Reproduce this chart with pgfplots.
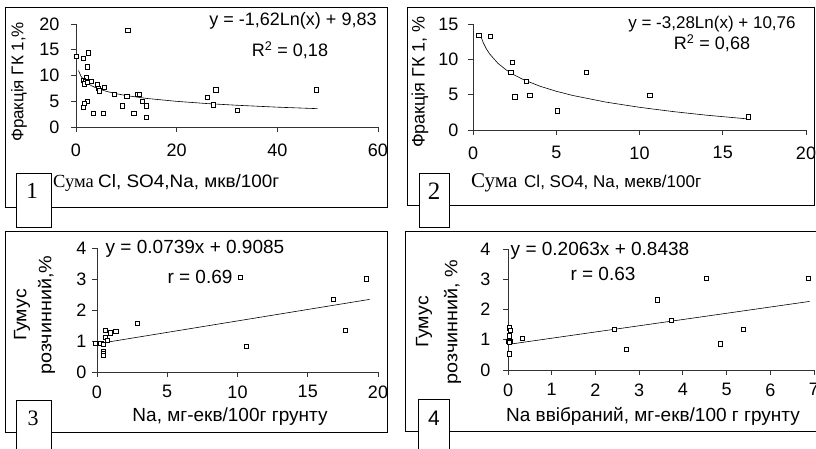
\documentclass[border=0pt]{standalone}
\usepackage{fontspec}
\setmainfont{Liberation Sans}
\newfontfamily\tnr{Liberation Serif}
\usepackage{graphicx}
\usepackage{pgfplots}
\pgfplotsset{compat=1.18}

\newcommand\fs{\fontsize{18}{21}\selectfont}

\pgfplotsset{
  panel/.style={
    scale only axis, anchor=south west,
    axis lines=left, axis line style={-, black!80, line width=0.8pt},
    tick align=outside, major tick length=5pt,
    tick style={black!80, line width=0.8pt},
    ticklabel style={font=\fs},
    /pgf/number format/assume math mode=true,
    clip=false,
  },
  pts/.style={only marks, mark=square*, mark size=2.1pt,
    mark options={fill=white, draw=black, line width=0.8pt}},
  fit/.style={no marks, black, line width=0.6pt},
}

\begin{document}
\begin{tikzpicture}[x=1pt, y=1pt]
\useasboundingbox (0,0) rectangle (816,449);

% panel frames
\draw[line width=0.8pt] (5,442) rectangle (387,242);
\draw[line width=0.8pt] (407,442) rectangle (814,244);
\draw[line width=0.8pt] (5,218) rectangle (387,17);
\draw[line width=0.8pt] (816,218) -- (405,218) -- (405,18) -- (816,18);

% 1
\begin{axis}[panel, at={(76pt,322pt)}, width=302pt, height=103pt,
  xmin=0, xmax=60, ymin=0, ymax=20, xtick={0,20,40,60}, ytick={0,5,10,15,20},
  xticklabel style={yshift=-8pt}, yticklabel style={xshift=-8pt}]
  \addplot[pts] coordinates {
    (0,13.65) (10.3,18.8) (2.5,14.4) (1.4,13.3) (2.25,11.65) (2.0,9.65)
    (1.4,9.1) (1.8,8.8) (1.6,8.35) (2.25,8.6) (3.1,8.9) (4.25,8.3)
    (4.4,7.5) (4.65,7.0) (5.7,7.7) (7.7,6.35) (10.1,6.0) (12.3,6.35)
    (12.6,6.35) (13.2,4.9) (14.0,4.1) (9.15,4.1) (11.5,2.65) (14.0,1.8)
    (5.4,2.65) (3.4,2.65) (2.25,5.0) (1.65,4.65) (1.4,3.8) (26.1,5.75)
    (27.8,7.2) (27.3,4.3) (32.0,3.2) (47.8,7.2)};
  \addplot[fit] coordinates {
    (0.5,10.95) (1,9.83) (2,8.71) (3,8.05) (4,7.58) (6,6.93) (8,6.46)
    (10,6.10) (14,5.55) (20,4.98) (26,4.55) (32,4.22) (40,3.85) (48,3.56)};
\end{axis}

% 2
\begin{axis}[panel, at={(473pt,319pt)}, width=333pt, height=106pt,
  xmin=0, xmax=20, ymin=0, ymax=15, xtick={0,5,10,15,20}, ytick={0,5,10,15},
  xticklabel style={yshift=-8pt}, yticklabel style={xshift=-6pt}]
  \addplot[pts] coordinates {
    (0.36,13.4) (1.06,13.2) (2.38,9.58) (2.28,8.16) (3.22,6.93) (2.52,4.67)
    (3.42,4.9) (5.07,2.69) (6.79,8.16) (10.63,4.9) (16.53,1.84)};
  \addplot[fit] coordinates {
    (0.45,13.38) (0.6,12.44) (0.8,11.49) (1,10.76) (1.5,9.43) (2,8.49)
    (2.5,7.75) (3,7.16) (4,6.21) (5,5.48) (6,4.88) (8,3.94) (10,3.21)
    (12,2.61) (14,2.10) (16.5,1.57)};
\end{axis}

% 3
\begin{axis}[panel, at={(97pt,77pt)}, width=281pt, height=124pt,
  xmin=0, xmax=20, ymin=0, ymax=4, xtick={0,5,10,15,20}, ytick={0,1,2,3,4},
  xticklabel style={yshift=-5pt}, yticklabel style={xshift=-2pt}]
  \addplot[pts] coordinates {
    (-0.12,0.92) (0.28,0.92) (0.43,0.88) (0.43,0.66) (0.43,0.6) (0.43,0.53)
    (0.6,1.35) (0.6,1.12) (0.74,1.02) (0.95,1.26) (1.35,1.3) (2.9,1.57)
    (10.2,3.05) (10.63,0.83) (16.8,2.35) (17.7,1.35) (19.2,3.0)};
  \addplot[fit] coordinates {(0.4,0.938) (19.4,2.342)};
\end{axis}

% 4
\begin{axis}[panel, at={(508pt,79pt)}, width=306pt, height=121pt,
  xmin=0, xmax=7, ymin=0, ymax=4, xtick={0,1,...,7}, ytick={0,1,2,3,4},
  xticklabel style={yshift=-5pt}, yticklabel style={xshift=-9pt}]
  \addplot[pts] coordinates {
    (0.04,1.39) (0.06,1.30) (0.04,1.13) (0,0.94) (0.06,0.94) (0.04,0.90)
    (0.04,0.53) (0.33,1.04) (2.44,1.33) (2.71,0.67) (3.41,2.32) (3.74,1.63)
    (4.54,3.04) (4.86,0.86) (5.39,1.33) (6.88,3.04)};
  \addplot[fit] coordinates {(0,0.844) (6.9,2.267)};
\end{axis}

% texts, panel 1
\node[font=\fs] at (293,428) {y = -1,62Ln(x) + 9,83};
\node[font=\fs] at (290,399) {R\textsuperscript{2} = 0,18};
\node[font={\fontsize{17}{20}\selectfont}, rotate=90] at (19,367) {Фракція ГК 1,\%};
\node[font={\tnr\fontsize{18.5}{21}\selectfont}, anchor=base west, inner sep=0pt] at (53,261) {Сума};
\node[font=\fs, anchor=base west, inner sep=0pt] at (98,261)
  {\scalebox{1.05}[1]{Cl, SO4,Na, мкв/100г}};
\draw[line width=0.8pt, fill=white] (16,222) rectangle (51,276);
\node[font={\tnr\fontsize{23}{25}\selectfont}] at (32,258) {1};

% panel 2
\node[font={\fontsize{17}{20}\selectfont}] at (712,425) {y = -3,28Ln(x) + 10,76};
\node[font=\fs] at (712,406) {R\textsuperscript{2} = 0,68};
\node[font=\fs, rotate=90] at (420,367) {Фракція ГК 1, \%};
\node[font={\tnr\fontsize{21}{24}\selectfont}, anchor=base west, inner sep=0pt] at (471,261) {Сума};
\node[font={\fontsize{17}{20}\selectfont}, anchor=base west, inner sep=0pt] at (524,261)
  {Cl, SO4, Na, мекв/100г};
\draw[line width=0.8pt, fill=white] (419,222) rectangle (449,276);
\node[font={\tnr\fontsize{25}{27}\selectfont}] at (434,258) {2};

% panel 3
\node[font={\fontsize{19}{22}\selectfont}] at (195,200) {y = 0.0739x + 0.9085};
\node[font={\fontsize{19}{22}\selectfont}] at (200,172) {r = 0.69};
\node[font={\fontsize{18}{25}\selectfont}, rotate=90, align=center] at (34.5,134)
  {\scalebox{1.08}[1]{Гумус}\\\scalebox{1.1}[1]{розчинний,\%}};
\node[font={\fontsize{19}{22}\selectfont}] at (230,32) {Na, мг-екв/100г грунту};
\draw[line width=0.8pt, fill=white] (16,-5) rectangle (51,49);
\node[font={\tnr\fontsize{22}{24}\selectfont}] at (33,31) {3};

% panel 4
\node[font={\fontsize{19}{22}\selectfont}] at (600,198) {y = 0.2063x + 0.8438};
\node[font={\fontsize{19}{22}\selectfont}] at (603,175) {r = 0.63};
\node[font={\fontsize{18}{29}\selectfont}, rotate=90, align=center] at (438.5,127)
  {\scalebox{1.08}[1]{Гумус}\\\scalebox{1.1}[1]{розчинний, \%}};
\node[font={\fontsize{19}{22}\selectfont}] at (653,33) {Na ввібраний, мг-екв/100 г грунту};
\draw[line width=0.8pt, fill=white] (418,-5) rectangle (449,50);
\node[font={\fontsize{21}{23}\selectfont}] at (434,31) {4};
\end{tikzpicture}
\end{document}
